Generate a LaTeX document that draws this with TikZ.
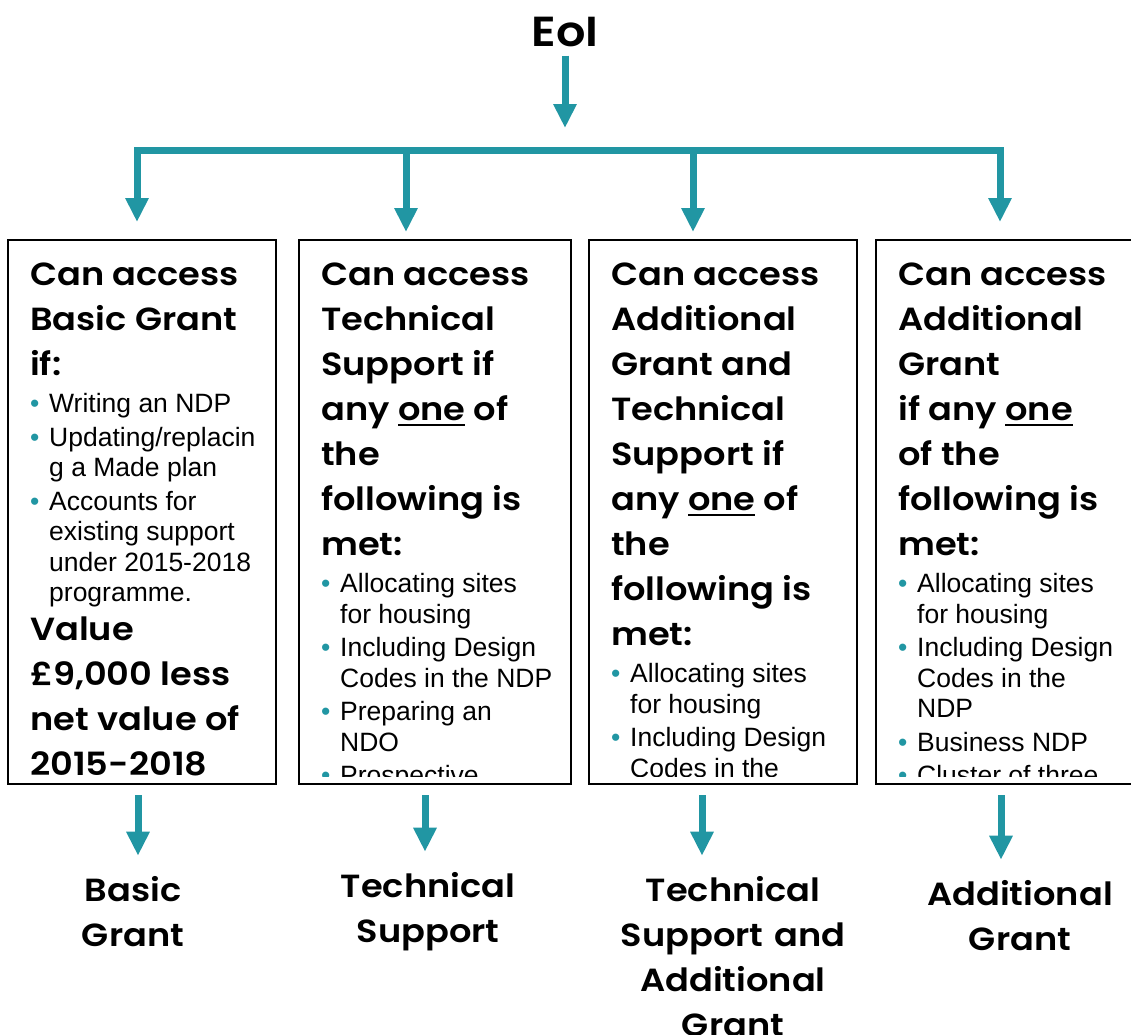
\documentclass[tikz,border=0pt]{standalone}
\usepackage{fontspec}
\setmainfont{Liberation Sans}
\newfontfamily\hdfont{Poppins SemiBold}[FakeStretch=1.1]
\usetikzlibrary{positioning,arrows.meta,calc}
\definecolor{EoITeal}{HTML}{2196A3}

\newlength{\itemgap}\setlength{\itemgap}{3pt}
\newcommand{\hdsize}{\hdfont\fontsize{32}{45}\selectfont\spaceskip=0pt\xspaceskip=0pt}
\newcommand{\blsize}{\normalfont\fontsize{26.5}{30.5}\selectfont\spaceskip=0pt\xspaceskip=0pt}
\newcommand{\bitem}[1]{\par\vspace{\itemgap}\hangindent=19pt\hangafter=1\noindent\makebox[19pt][l]{\textcolor{EoITeal}{•}}#1\par}
\newcommand{\ulone}[1]{\leavevmode\setbox0=\hbox{#1}\rlap{\rule[-6pt]{\wd0}{2pt}}\box0\relax}

\begin{document}
\begin{tikzpicture}[
    x=1pt, y=-1pt,
    gbox/.style={
      draw=black,
      line width=1.8pt,
      minimum height=544pt,
      inner sep=0pt,
      outer sep=0pt
    },
    gtext/.style={
      anchor=base west,
      inner sep=0pt,
      text width=300pt,
      align=left
    },
    outtext/.style={
      anchor=base,
      inner sep=0pt,
      text width=320pt,
      align=center,
      font=\hdsize
    },
    flowarrow/.style={
      -{Triangle[length=24pt,width=22pt]},
      line width=7pt,
      EoITeal
    }
  ]
  \useasboundingbox (0,0) rectangle (1131,1034);

  % top
  \node[font=\hdfont\fontsize{42}{50}\selectfont, anchor=base, inner sep=0pt] (eoi) at (565,46) {EoI};

  % four boxes
  \node[gbox, minimum width=268pt, anchor=north west] (basic) at (8,240) {};
  \node[gbox, minimum width=272pt, right=23pt of basic] (tech) {};
  \node[gbox, minimum width=268pt, right=18pt of tech] (both) {};
  \node[gbox, minimum width=264pt, right=19pt of both] (addl) {};

  % box texts, cut a little above the box bottom
  \begin{scope}
    \clip (basic.north west) rectangle ($(basic.south east)+(0,-8)$);
    \node[gtext] (basicTxt) at ($(basic.north west)+(22,45)$) {%
      {\hdsize Can access\newline Basic Grant\newline if:\par}
      \vspace{4pt}
      {\blsize
        \bitem{Writing an NDP}
        \bitem{Updating/replacin\newline g a Made plan}
        \bitem{Accounts for\newline existing support\newline under 2015-2018\newline programme.}}
      \vspace{-6pt}
      {\hdsize Value\newline £9,000 less\newline net value of\newline 2015-2018\par}};
  \end{scope}
  \begin{scope}
    \clip (tech.north west) rectangle ($(tech.south east)+(0,-8)$);
    \node[gtext] (techTxt) at ($(tech.north west)+(22,45)$) {%
      {\hdsize Can access\newline Technical\newline Support if\newline any \ulone{one} of\newline the\newline following is\newline met:\par}
      \vspace{4pt}
      {\blsize
        \bitem{Allocating sites\newline for housing}
        \bitem{Including Design\newline Codes in the NDP}
        \bitem{Preparing an\newline NDO}
        \bitem{Prospective}}};
  \end{scope}
  \begin{scope}
    \clip (both.north west) rectangle ($(both.south east)+(0,-8)$);
    \node[gtext] (bothTxt) at ($(both.north west)+(22,45)$) {%
      {\hdsize Can access\newline Additional\newline Grant and\newline Technical\newline Support if\newline any \ulone{one} of\newline the\newline following is\newline met:\par}
      \vspace{4pt}
      {\blsize
        \bitem{Allocating sites\newline for housing}
        \bitem{Including Design\newline Codes in the}}};
  \end{scope}
  \begin{scope}
    \clip (addl.north west) rectangle ($(addl.south east)+(0,-8)$);
    \node[gtext] (addlTxt) at ($(addl.north west)+(22,45)$) {%
      {\hdsize Can access\newline Additional\newline Grant\newline if any \ulone{one}\newline of the\newline following is\newline met:\par}
      \vspace{4pt}
      {\blsize
        \bitem{Allocating sites\newline for housing}
        \bitem{Including Design\newline Codes in the\newline NDP}
        \bitem{Business NDP}
        \bitem{Cluster of three}}};
  \end{scope}

  % outcomes
  \node[outtext] (outBasic) at (133,901) {Basic\\Grant};
  \node[outtext] (outTech) at (428,897) {Technical\\Support};
  \node[outtext] (outBoth) at (733,901) {Technical\\Support and\\Additional\\Grant};
  \node[outtext] (outAddl) at (1020,905) {Additional\\Grant};

  % EoI -> bar -> boxes
  \coordinate (barL) at (137,150);
  \coordinate (barB) at (406,150);
  \coordinate (barC) at (693,150);
  \coordinate (barR) at (1000,150);
  \draw[flowarrow, shorten <=9pt, shorten >=22pt] (eoi) -- (eoi |- barL);
  \draw[line width=7pt, EoITeal, line cap=rect] (barL) -- (barR);
  \foreach \c/\b/\s in {barL/basic/18, barB/tech/8, barC/both/8, barR/addl/18}
    \draw[flowarrow, shorten >=\s pt] (\c) -- (\b.north -| \c);

  % boxes -> outcomes
  \foreach \b/\o/\dx in {basic/outBasic/-4, tech/outTech/-10, both/outBoth/-21, addl/outAddl/-7}
    \draw[flowarrow, shorten <=11pt, shorten >=20pt] ([xshift=\dx pt]\b.south) -- ([xshift=\dx pt]\b.south |- \o.north);
\end{tikzpicture}
\end{document}
